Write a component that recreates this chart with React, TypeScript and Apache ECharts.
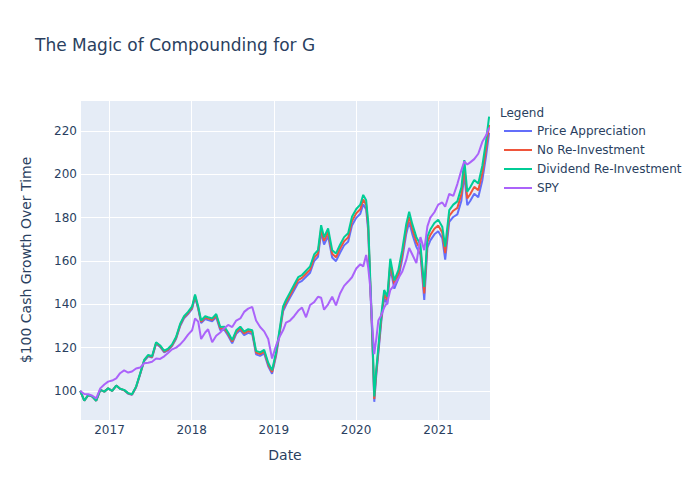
import React, { useEffect, useRef } from "react";
import * as echarts from "echarts";

const dates = [
  "2016-08-24", "2016-09-11", "2016-09-29", "2016-10-17", "2016-11-03", "2016-11-21", "2016-12-09", "2016-12-26", "2017-01-13", "2017-01-31",
  "2017-02-17", "2017-03-07", "2017-03-25", "2017-04-11", "2017-04-29", "2017-05-17", "2017-06-04", "2017-06-22", "2017-07-09", "2017-07-27",
  "2017-08-14", "2017-09-01", "2017-09-18", "2017-10-06", "2017-10-24", "2017-11-11", "2017-11-28", "2017-12-16", "2018-01-03", "2018-01-16",
  "2018-01-30", "2018-02-12", "2018-03-02", "2018-03-15", "2018-04-02", "2018-04-20", "2018-05-08", "2018-05-26", "2018-06-12", "2018-06-30",
  "2018-07-18", "2018-08-05", "2018-08-22", "2018-09-09", "2018-09-27", "2018-10-14", "2018-11-01", "2018-11-19", "2018-12-07", "2018-12-24",
  "2019-01-11", "2019-01-29", "2019-02-11", "2019-02-24", "2019-03-14", "2019-04-01", "2019-04-19", "2019-05-06", "2019-05-24", "2019-06-11",
  "2019-06-29", "2019-07-16", "2019-07-30", "2019-08-12", "2019-08-30", "2019-09-17", "2019-10-04", "2019-10-22", "2019-11-09", "2019-11-27",
  "2019-12-14", "2020-01-02", "2020-01-20", "2020-02-02", "2020-02-15", "2020-02-24", "2020-03-04", "2020-03-13", "2020-03-22", "2020-03-31",
  "2020-04-09", "2020-04-22", "2020-05-05", "2020-05-19", "2020-06-01", "2020-06-19", "2020-07-07", "2020-07-24", "2020-08-11", "2020-08-24",
  "2020-09-07", "2020-09-25", "2020-10-13", "2020-10-30", "2020-11-13", "2020-11-26", "2020-12-14", "2020-12-31", "2021-01-18", "2021-01-31",
  "2021-02-18", "2021-03-08", "2021-03-26", "2021-04-13", "2021-04-26", "2021-05-09", "2021-05-22", "2021-06-09", "2021-06-27", "2021-07-15",
  "2021-08-01", "2021-08-14",
];

const priceAppreciation = [
  100, 95.5, 98.2, 97.4, 95.5, 100.5, 99.7, 101.2, 100, 102.5,
  101, 100.3, 98.7, 98.2, 101.6, 107.6, 113.8, 116, 115.4, 121.8,
  120.3, 117.8, 118.7, 120.7, 124.1, 130, 133.5, 135.5, 137.9, 143.3,
  137.8, 131.3, 133.2, 132.7, 132.2, 134.1, 128.1, 128.3, 125.5, 122,
  126.4, 128.1, 125.8, 126.8, 126.3, 116.9, 116.2, 117.3, 111.4, 107.9,
  116.2, 128, 136.8, 139.7, 143.1, 146.5, 149.9, 150.8, 152.7, 154.6,
  160, 161.9, 173.1, 167.6, 171.5, 161.6, 159.9, 163.8, 167.2, 168.9,
  176.4, 179.9, 181.8, 186.2, 183.7, 174, 148.5, 125, 95, 107.4,
  117.2, 131.8, 143.1, 140, 157, 147.2, 151.9, 160.8, 172.5, 178,
  172.4, 166.5, 163, 142, 166.2, 169.5, 172.3, 173.7, 170.5, 160.6,
  178, 180.3, 181.5, 187.8, 200.1, 185.8, 187.7, 191, 189.4, 197.3,
  208.8, 219.1,
];

const noReInvestment = [
  100, 95.5, 98.2, 97.4, 95.5, 100.5, 99.7, 101.2, 100, 102.5,
  101, 100.4, 98.9, 98.4, 101.8, 107.8, 114.1, 116.3, 115.7, 122.2,
  120.7, 118.2, 119.1, 121.1, 124.6, 130.5, 134, 136, 138.5, 143.9,
  138.4, 131.9, 133.9, 133.4, 132.9, 134.8, 128.8, 129, 126.3, 122.8,
  127.2, 128.9, 126.6, 127.7, 127.2, 117.7, 117, 118.2, 112.2, 108.7,
  117.1, 129, 137.9, 140.9, 144.3, 147.8, 151.2, 152.2, 154.1, 156,
  161.5, 163.5, 174.8, 169.3, 173.3, 163.3, 161.7, 165.7, 169.1, 170.9,
  178.4, 182, 183.9, 188.4, 185.9, 176, 150.2, 126.5, 96.3, 108.7,
  118.6, 133.4, 144.9, 141.8, 159, 149.1, 153.9, 162.9, 174.8, 180.4,
  174.7, 168.8, 165.3, 145, 168.7, 172, 174.9, 176.4, 173.1, 163.6,
  180.8, 183.2, 184.5, 190.9, 203.4, 188.9, 190.8, 194.2, 192.6, 200.6,
  212.3, 222.8,
];

const dividendReInvestment = [
  100, 95.5, 98.2, 97.4, 95.5, 100.5, 99.7, 101.2, 100, 102.5,
  101, 100.5, 99, 98.5, 102, 108, 114.3, 116.6, 116, 122.5,
  121, 118.5, 119.5, 121.5, 125, 131, 134.5, 136.5, 139, 144.5,
  139, 132.5, 134.5, 134, 133.5, 135.5, 129.5, 129.7, 127, 123.5,
  128, 129.7, 127.4, 128.5, 128, 118.5, 117.8, 119, 113, 109.5,
  118, 130, 139, 142, 145.5, 149, 152.5, 153.5, 155.5, 157.5,
  163, 165, 176.5, 171, 175, 165, 163.5, 167.5, 171, 172.8,
  180.4, 184, 186, 190.5, 188, 178, 152, 128, 97.5, 110,
  120, 135, 146.6, 143.5, 161, 151, 155.8, 165, 177, 182.7,
  177, 171, 167.5, 148, 171.2, 174.5, 177.5, 179, 175.8, 166.6,
  183.5, 186, 187.5, 194, 206.6, 192, 194, 197.4, 195.8, 204,
  215.8, 226.6,
];

const spy = [
  100, 98.6, 98.5, 97.8, 96.6, 101.2, 103, 104.3, 104.8, 105.8,
  108.2, 109.5, 108.5, 109, 110.4, 110.8, 112.8, 113, 113.5, 115,
  114.8, 116, 117.5, 119.2, 120, 121.5, 123.5, 126, 128, 133.5,
  132, 124, 127, 128.5, 122.5, 125.5, 127, 129, 130.5, 129.5,
  132.5, 133.5, 136.5, 138, 138.8, 132.5, 129.5, 127.5, 124, 115,
  121, 125.5, 128, 131.5, 132.5, 134.5, 137, 138.5, 134, 139.7,
  141, 143.5, 143, 137.5, 140, 143.5, 139.5, 145, 148.5, 150.5,
  152.5, 156.5, 158.5, 157.5, 162.8, 157, 148, 130, 117, 124,
  132.5, 135, 138.5, 141, 146.5, 149, 152, 155, 160.5, 166,
  163, 159, 171, 165, 176, 180, 182.5, 186, 187, 185,
  191, 190, 195.5, 202, 206, 204.5, 205.5, 207, 209.5, 215,
  218, 221.5,
];

const seriesNames = ["Price Appreciation", "No Re-Investment", "Dividend Re-Investment", "SPY"];
const seriesValues = [priceAppreciation, noReInvestment, dividendReInvestment, spy];
const seriesColors = ["#636efa", "#EF553B", "#00cc96", "#ab63fa"];

const FONT = "'DejaVu Sans', 'Open Sans', sans-serif";
const TXT = "#2a3f5f";

export default function App() {
  const ref = useRef<HTMLDivElement>(null);
  useEffect(() => {
    if (!ref.current) return;
    const chart = echarts.init(ref.current, undefined, { renderer: "svg" });
    chart.setOption({
      animation: false,
      backgroundColor: "#ffffff",
      textStyle: { fontFamily: FONT },
      title: [
        {
          text: "The Magic of Compounding for G",
          left: 30,
          top: 31,
          textStyle: { fontSize: 17, fontWeight: "normal", color: TXT, fontFamily: FONT },
        },
        {
          text: "Legend",
          left: 495,
          top: 102,
          textStyle: { fontSize: 12, fontWeight: "normal", color: TXT, fontFamily: FONT },
        },
      ],
      legend: {
        orient: "vertical",
        left: 504,
        top: 125,
        padding: 0,
        itemGap: 7,
        itemWidth: 28,
        itemHeight: 2,
        icon: "rect",
        data: seriesNames,
        textStyle: { fontSize: 12, color: TXT, fontFamily: FONT },
      },
      grid: { left: 80, top: 100, width: 410, height: 320, backgroundColor: "#E5ECF6", show: true, borderWidth: 0 },
      xAxis: {
        type: "time",
        min: "2016-08-23",
        max: "2021-08-18",
        splitNumber: 5,
        name: "Date",
        nameLocation: "middle",
        nameGap: 28,
        nameTextStyle: { fontSize: 14, color: TXT, fontFamily: FONT },
        axisLine: { show: false },
        axisTick: { show: false },
        axisLabel: {
          formatter: "{yyyy}",
          color: TXT,
          fontSize: 12,
          margin: 4,
          showMinLabel: false,
          showMaxLabel: false,
          fontFamily: FONT,
        },
        splitLine: { show: true, lineStyle: { color: "#ffffff", width: 1 } },
      },
      yAxis: {
        type: "value",
        min: 86.6,
        max: 234.3,
        splitNumber: 8,
        minInterval: 20,
        maxInterval: 20,
        name: "$100 Cash Growth Over Time",
        nameLocation: "middle",
        nameGap: 47,
        nameTextStyle: { fontSize: 14, color: TXT, fontFamily: FONT },
        axisLine: { show: false },
        axisTick: { show: false },
        axisLabel: {
          color: TXT,
          fontSize: 12,
          margin: 3,
          showMinLabel: false,
          showMaxLabel: false,
          fontFamily: FONT,
        },
        splitLine: { show: true, lineStyle: { color: "#ffffff", width: 1 } },
      },
      series: seriesNames.map((name, si) => ({
        name,
        type: "line",
        showSymbol: false,
        symbol: "none",
        color: seriesColors[si],
        lineStyle: { width: 2, color: seriesColors[si] },
        data: dates.map((d, i) => [d, seriesValues[si][i]]),
      })),
    });
    return () => chart.dispose();
  }, []);
  return <div ref={ref} style={{ width: 700, height: 500, position: "absolute", left: 0, top: 0 }} />;
}
